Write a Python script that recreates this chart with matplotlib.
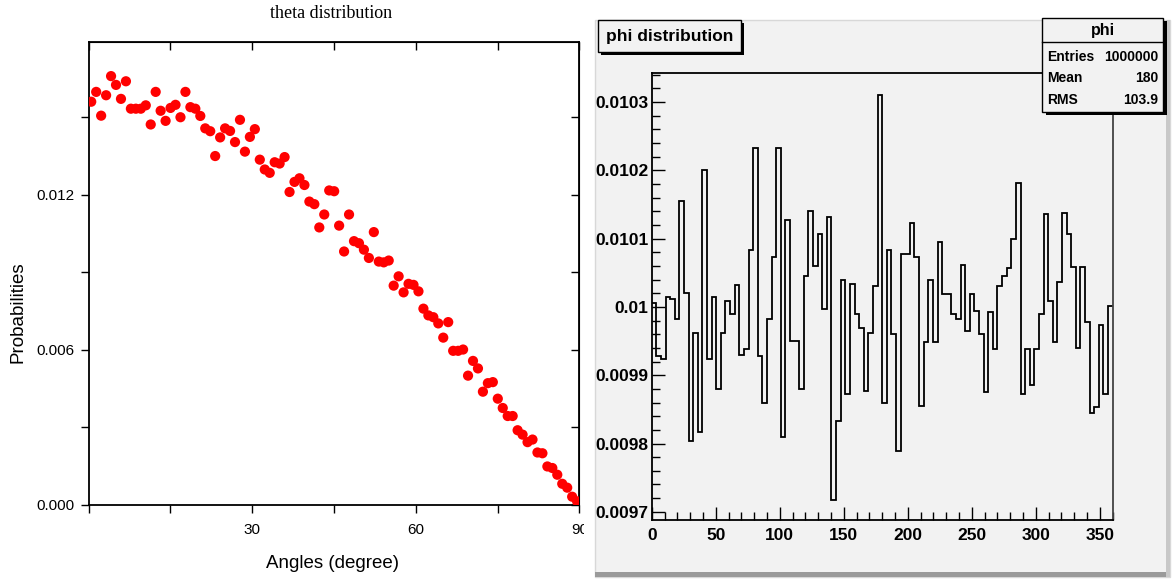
import numpy as np
import matplotlib
matplotlib.use('Agg')
import matplotlib.pyplot as plt
from matplotlib.patches import Rectangle
from matplotlib.ticker import MultipleLocator, FuncFormatter

# theta distribution (left panel), one value per angle bin
theta_prob = [
    0.01559, 0.01597, 0.01505, 0.01584, 0.01658, 0.01624, 0.01570, 0.01638, 0.01532, 0.01532,
    0.01532, 0.01545, 0.01471, 0.01597, 0.01524, 0.01485, 0.01535, 0.01547, 0.01499, 0.01597,
    0.01538, 0.01532, 0.01504, 0.01456, 0.01445, 0.01349, 0.01421, 0.01456, 0.01446, 0.01403,
    0.01489, 0.01366, 0.01423, 0.01453, 0.01335, 0.01297, 0.01284, 0.01325, 0.01320, 0.01345,
    0.01210, 0.01249, 0.01263, 0.01237, 0.01173, 0.01163, 0.01073, 0.01123, 0.01216, 0.01213,
    0.01080, 0.00980, 0.01123, 0.01020, 0.01012, 0.00987, 0.00955, 0.01055, 0.00941, 0.00938,
    0.00945, 0.00848, 0.00884, 0.00822, 0.00855, 0.00851, 0.00826, 0.00759, 0.00733, 0.00726,
    0.00702, 0.00647, 0.00707, 0.00596, 0.00596, 0.00601, 0.00500, 0.00557, 0.00528, 0.00438,
    0.00471, 0.00475, 0.00411, 0.00375, 0.00344, 0.00344, 0.00289, 0.00272, 0.00243, 0.00253,
    0.00203, 0.00200, 0.00149, 0.00143, 0.00117, 0.00082, 0.00067, 0.00032, 0.00014,
]
theta_deg = np.linspace(0.5, 89.6, len(theta_prob))

# phi distribution (right panel), 100 bins over 0..360
phi_prob = [
    0.010006, 0.009928, 0.009924, 0.010015, 0.010011, 0.009982, 0.010155, 0.010021, 0.009804, 0.009962,
    0.009817, 0.010201, 0.009924, 0.010015, 0.009880, 0.009962, 0.010008, 0.009990, 0.010032, 0.009929,
    0.009939, 0.010084, 0.010233, 0.009928, 0.009859, 0.009982, 0.010073, 0.010233, 0.009809, 0.010127,
    0.009950, 0.009950, 0.009880, 0.010045, 0.010140, 0.010060, 0.010106, 0.009997, 0.010132, 0.009718,
    0.009833, 0.010039, 0.009872, 0.010034, 0.009990, 0.009969, 0.009877, 0.009962, 0.010030, 0.010310,
    0.009859, 0.010084, 0.009960, 0.009789, 0.010077, 0.010078, 0.010123, 0.010073, 0.009855, 0.009948,
    0.010040, 0.009948, 0.010095, 0.010019, 0.010019, 0.009989, 0.009982, 0.010062, 0.009964, 0.010019,
    0.009994, 0.009961, 0.009876, 0.009993, 0.009939, 0.010030, 0.010045, 0.010057, 0.010100, 0.010182,
    0.009873, 0.009939, 0.009886, 0.009939, 0.009990, 0.010136, 0.010008, 0.009948, 0.010037, 0.010138,
    0.010107, 0.010059, 0.009940, 0.010059, 0.009978, 0.009845, 0.009854, 0.009974, 0.009873, 0.010002,
]
phi_edges = np.linspace(0, 360, len(phi_prob) + 1)

stats_rows = [('Entries', '1000000'), ('Mean', '180'), ('RMS', '103.9')]

W, H = 1174, 581
fig = plt.figure(figsize=(W / 100, H / 100), dpi=100)
fig.patch.set_facecolor('white')


def fx(px):
    return px / W


def fy(py):
    return 1 - py / H


def box(x0, y0, x1, y1, **kw):
    r = Rectangle((fx(x0), fy(y1)), fx(x1) - fx(x0), fy(y0) - fy(y1),
                  transform=fig.transFigure, **kw)
    fig.patches.append(r)
    return r


sans = ['Liberation Sans', 'DejaVu Sans']

# ---------------- left: theta ----------------
ax1 = fig.add_axes([fx(88.5), fy(505), (579.3 - 88.5) / W, (505 - 41.7) / H])
ax1.scatter(theta_deg, theta_prob, s=54, color='#ff0000', edgecolors='none', zorder=3)
ax1.set_xlim(0, 90)
ax1.set_ylim(0, 0.01791)
ax1.xaxis.set_major_locator(MultipleLocator(30))
ax1.xaxis.set_minor_locator(MultipleLocator(15))
ax1.yaxis.set_major_locator(MultipleLocator(0.006))
ax1.yaxis.set_minor_locator(MultipleLocator(0.003))
ax1.yaxis.set_major_formatter(FuncFormatter(lambda v, p: '%.3f' % v))
ax1.xaxis.set_major_formatter(FuncFormatter(lambda v, p: '' if v == 0 else '%d' % v))
for sp in ax1.spines.values():
    sp.set_linewidth(1.3)
ax1.tick_params(axis='both', which='both', direction='out', width=1.0,
                top=False, right=False)
ax1.tick_params(axis='both', which='major', length=6, labelsize=11)
ax1.tick_params(axis='both', which='minor', length=6)
ax1.tick_params(axis='y', pad=4)
ax1.tick_params(axis='x', pad=7)
for lab in ax1.get_xticklabels() + ax1.get_yticklabels():
    lab.set_family(sans)
# inward ticks on top and right
ax1t = ax1.secondary_xaxis('top')
ax1t.xaxis.set_major_locator(MultipleLocator(15))
ax1t.tick_params(direction='in', length=6, width=1.0, labeltop=False)
ax1r = ax1.secondary_yaxis('right')
ax1r.yaxis.set_major_locator(MultipleLocator(0.003))
ax1r.tick_params(direction='in', length=6, width=1.0, labelright=False)

fig.text(fx(331), fy(14), 'theta distribution', ha='center', va='center',
         family=['Liberation Serif', 'DejaVu Serif'], size=13)
fig.text(fx(18), fy(312), 'Probabilities', ha='center', va='center', rotation=90,
         family=sans, size=13.5)
fig.text(fx(333), fy(563), 'Angles (degree)', ha='center', va='center',
         family=sans, size=13.5)

# ---------------- right: phi (ROOT style canvas) ----------------
grey = '#f2f2f2'
box(584, 0, 595, H, facecolor='white', edgecolor='none', zorder=1)
box(595, 20, 1170, 577, facecolor=grey, edgecolor='#d8d8d8', linewidth=1.0, zorder=1)
box(595, 572, 1170, 577, facecolor='#9a9a9a', edgecolor='none', zorder=1)
box(1166, 20, 1170, 577, facecolor='#c8c8c8', edgecolor='none', zorder=1)

ax2 = fig.add_axes([fx(651.7), fy(520), (1112.7 - 651.7) / W, (520 - 73.3) / H])
ax2.set_zorder(2)
ax2.set_facecolor(grey)
ax2.stairs(phi_prob, phi_edges, baseline=None, color='black', linewidth=1.3)
ax2.set_xlim(0, 360)
ax2.set_ylim(0.009688, 0.010342)
ax2.xaxis.set_major_locator(MultipleLocator(50))
ax2.xaxis.set_minor_locator(MultipleLocator(10))
ax2.yaxis.set_major_locator(MultipleLocator(0.0001))
ax2.yaxis.set_minor_locator(MultipleLocator(0.00002))
ax2.yaxis.set_major_formatter(FuncFormatter(lambda v, p: '%g' % round(v, 6)))
for sp in ax2.spines.values():
    sp.set_linewidth(1.3)
ax2.spines['right'].set_color('#444444')
ax2.tick_params(axis='both', which='both', direction='in', width=1.0,
                top=False, right=False)
ax2.tick_params(axis='both', which='major', length=9.5, labelsize=12.5)
ax2.tick_params(axis='both', which='minor', length=5.5)
ax2.tick_params(axis='y', pad=2.5)
ax2.tick_params(axis='x', pad=5.5)
for lab in ax2.get_xticklabels() + ax2.get_yticklabels():
    lab.set_family(sans)
    lab.set_fontweight('bold')

# title box
box(601, 23, 744, 55, facecolor='black', edgecolor='none', zorder=3)
box(598, 20, 741, 52, facecolor=grey, edgecolor='black', linewidth=1.0, zorder=4)
fig.text(fx(669.5), fy(36), 'phi distribution', ha='center', va='center',
         family=sans, weight='bold', size=12.5, zorder=5)

# stats box
box(1046, 21, 1167, 115, facecolor='black', edgecolor='none', zorder=3)
box(1042, 18, 1163, 112, facecolor=grey, edgecolor='black', linewidth=1.0, zorder=4)
fig.lines.append(plt.Line2D([fx(1042), fx(1163)], [fy(42), fy(42)],
                            transform=fig.transFigure, color='black', lw=1.0, zorder=5))
fig.text(fx(1102.5), fy(30), 'phi', ha='center', va='center',
         family=sans, weight='bold', size=11.5, zorder=5)
row_y = [57, 78, 100]
for (name, val), yy in zip(stats_rows, row_y):
    fig.text(fx(1047), fy(yy), name, ha='left', va='center',
             family=sans, weight='bold', size=10, zorder=5)
    fig.text(fx(1158), fy(yy), val, ha='right', va='center',
             family=sans, weight='bold', size=10, zorder=5)

fig.savefig('out.png', dpi=100)
